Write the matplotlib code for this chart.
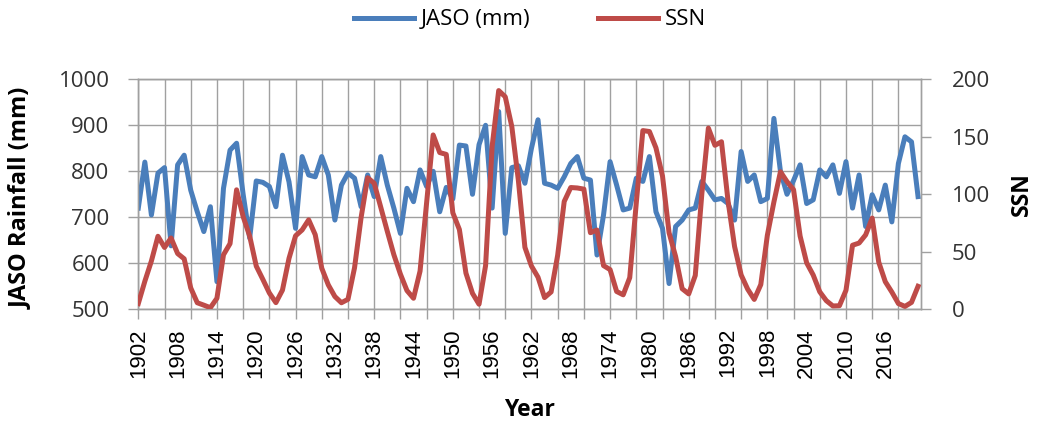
import numpy as np
import matplotlib
matplotlib.use("Agg")
import matplotlib.pyplot as plt
from matplotlib import font_manager
from matplotlib.lines import Line2D

years = list(range(1902, 2022))

jaso = [720, 820, 705, 796, 808, 638, 814, 835, 759, 712,
        669, 723, 560, 763, 846, 861, 750, 655, 779, 776,
        767, 723, 835, 777, 676, 832, 792, 788, 832, 792,
        694, 770, 796, 785, 723, 792, 745, 832, 770, 720,
        665, 763, 734, 803, 767, 800, 712, 765, 740, 857,
        855, 750, 858, 900, 720, 930, 665, 808, 812, 774,
        850, 912, 774, 770, 763, 788, 817, 832, 785, 781,
        618, 705, 821, 770, 716, 720, 785, 778, 832, 712,
        676, 556, 680, 694, 716, 720, 778, 759, 738, 741,
        730, 694, 843, 778, 792, 734, 741, 915, 800, 750,
        780, 814, 730, 738, 803, 788, 814, 752, 821, 720,
        792, 680, 749, 716, 770, 690, 817, 875, 864, 745]

ssn = [5.0, 24.4, 42.0, 63.5, 53.8, 62.0, 48.5, 43.9, 18.6, 5.7,
       3.6, 1.4, 9.6, 47.4, 57.1, 103.9, 80.6, 63.6, 37.6, 26.1,
       14.2, 5.8, 16.7, 44.3, 63.9, 69.0, 77.8, 64.9, 35.7, 21.2,
       11.1, 5.7, 8.7, 36.1, 79.7, 114.4, 109.6, 88.8, 67.8, 47.5,
       30.6, 16.3, 9.6, 33.2, 92.6, 151.6, 136.3, 134.7, 83.9, 69.4,
       31.5, 13.9, 4.4, 38.0, 141.7, 190.2, 184.8, 159.0, 112.3, 53.9,
       37.6, 27.9, 10.2, 15.1, 47.0, 93.8, 105.9, 105.5, 104.5, 66.6,
       68.9, 38.0, 34.5, 15.5, 12.6, 27.5, 92.5, 155.4, 154.6, 140.4,
       115.9, 66.6, 45.9, 17.9, 13.4, 29.4, 100.2, 157.6, 142.6, 145.7,
       94.3, 54.6, 29.9, 17.5, 8.6, 21.5, 64.3, 93.3, 119.6, 111.0,
       104.0, 63.7, 40.4, 29.8, 15.2, 7.5, 2.9, 3.1, 16.5, 55.7,
       57.6, 64.7, 79.3, 41.0, 24.0, 15.0, 5.0, 2.5, 6.0, 20.0]

label_years = list(range(1902, 2017, 6))
grid_years = list(range(1902, 2019, 4))
left_ticks = [500, 600, 700, 800, 900, 1000]
right_ticks = [0, 50, 100, 150, 200]

BLUE = "#4A7EBB"
RED = "#BE4B48"
GRID = "#a0a0a0"
TXT = "#333333"

names = {f.name for f in font_manager.fontManager.ttflist}
xfont, xsize = "Liberation Sans", 16
yfont = "Open Sans" if "Open Sans" in names else "DejaVu Sans"

fig = plt.figure(figsize=(10.39, 4.22), dpi=100)
W, H = 1039, 422
x0, x1, y0, y1 = 138.3, 921, 79.3, 309.3
ax = fig.add_axes([x0 / W, 1 - y1 / H, (x1 - x0) / W, (y1 - y0) / H])
ax2 = ax.twinx()

ax.plot(years, jaso, color=BLUE, lw=3.6, solid_joinstyle="round", zorder=3)
ax2.plot(years, ssn, color=RED, lw=3.6, solid_joinstyle="round", zorder=3)

ax.set_xlim(1902, 2021.45)
ax.set_ylim(500, 1000)
ax2.set_ylim(0, 200)

ax.set_yticks(left_ticks)
ax.set_yticklabels([str(v) for v in left_ticks], fontfamily=yfont, fontsize=16, color=TXT)
ax2.set_yticks(right_ticks)
ax2.set_yticklabels([str(v) for v in right_ticks], fontfamily=yfont, fontsize=16, color=TXT)

ax.xaxis.remove_overlapping_locs = False
ax.set_xticks(label_years)
ax.set_xticklabels([str(y) for y in label_years], rotation=90,
                   fontfamily=xfont, fontsize=xsize, color="black")
ax.set_xticks(grid_years, minor=True)

ax.tick_params(axis="x", which="major", length=0, pad=13.5)
ax.tick_params(axis="x", which="minor", length=7.2, width=1.0, color=GRID, direction="out")
ax.tick_params(axis="y", which="major", length=7.2, width=1.0, color=GRID, pad=13.5)
ax2.tick_params(axis="y", which="major", length=7.2, width=1.0, color=GRID, pad=15)

ax.set_axisbelow(True)
ax.grid(which="minor", axis="x", color=GRID, lw=1.0)
ax.grid(which="major", axis="y", color=GRID, lw=1.0)
ax.grid(which="major", axis="x", visible=False)

for a in (ax, ax2):
    for s in a.spines.values():
        s.set_color(GRID)
        s.set_linewidth(1.0)

ax.set_ylabel("JASO Rainfall (mm)", fontfamily=yfont, fontweight="bold", fontsize=17)
ax.yaxis.set_label_coords(-0.1345, 0.484)
ax2.set_ylabel("SSN", fontfamily=yfont, fontweight="bold", fontsize=16.5, rotation=90,
               va="center")
ax2.yaxis.set_label_coords(1.129, 0.5)
ax.set_xlabel("Year", fontfamily=yfont, fontweight="bold", fontsize=16.5, va="center")
ax.xaxis.set_label_coords(0.5, -0.44)

handles = [Line2D([], [], color=BLUE, lw=3.6), Line2D([], [], color=RED, lw=3.6)]
fig.legend(handles, ["JASO (mm)", "SSN"], loc="center", bbox_to_anchor=(0.51, 0.953),
           ncol=2, frameon=False, prop={"family": yfont, "size": 16},
           handlelength=2.7, handletextpad=0.3, columnspacing=3.05)

fig.savefig("out.png", dpi=100)
